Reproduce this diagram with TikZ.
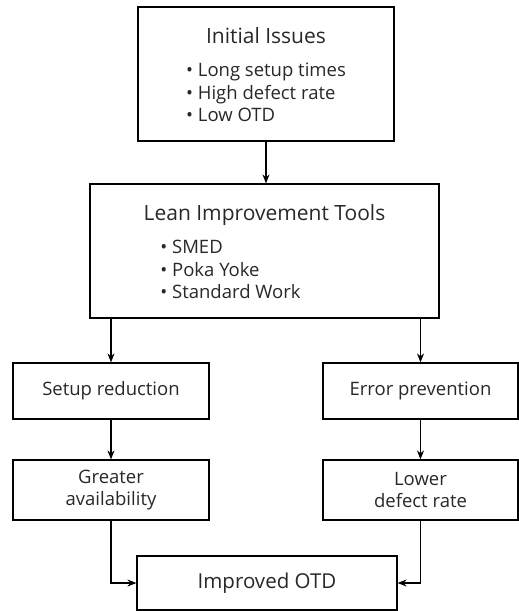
\documentclass[tikz,border=0pt]{standalone}
\usepackage{fontspec}
\setmainfont{Open Sans}
\usepackage{xcolor}
\definecolor{ink}{RGB}{40,40,40}
\usetikzlibrary{arrows.meta,positioning}
\tikzset{
  box/.style={draw=black,line width=1.2pt,fill=white,text=ink,%
    font=\fontsize{18.5}{22.5}\selectfont,inner sep=4pt,align=center},
  big/.style={font=\fontsize{20.5}{25}\selectfont},
  flow/.style={-{Stealth[length=9pt,width=7pt]},line width=1.1pt,draw=black},
}
\newcommand{\itm}{\textbullet\ }
\newcommand{\hd}[1]{{\fontsize{21}{25}\selectfont\rule{0pt}{24pt}#1}}

\begin{document}
\begin{tikzpicture}[x=1pt,y=-1pt]
\useasboundingbox (0,0) rectangle (519,611);
\node[box,minimum width=256pt,minimum height=134pt] (issues) at (266,74)
  {\hd{Initial Issues}\\[11pt]\begin{tabular}[t]{@{}l@{}}\itm Long setup times\\\itm High defect rate\\\itm Low OTD\end{tabular}};
\node[box,minimum width=349pt,minimum height=134pt] (tools) at (264.5,251)
  {\hd{Lean Improvement Tools}\\[11pt]\hspace*{-68pt}\begin{tabular}[t]{@{}l@{}}\itm SMED\\\itm Poka Yoke\\\itm Standard Work\end{tabular}};
\node[box,minimum width=196pt,minimum height=56pt] (setup) at (111,391) {Setup reduction};
\node[box,minimum width=195pt,minimum height=56pt] (error) at (420.5,391) {Error prevention};
\node[box,minimum width=196pt,minimum height=60pt] (avail) at (111,490) {Greater\\availability};
\node[box,minimum width=195pt,minimum height=60pt] (defect) at (420.5,490) {Lower\\defect rate};
\node[box,big,minimum width=260pt,minimum height=54pt] (otd) at (267,583) {Improved OTD};
\draw[flow] (issues.south) -- (issues.south |- tools.north);
\draw[flow] (tools.south -| setup.north) -- (setup.north);
\draw[flow] (tools.south -| error.north) -- (error.north);
\draw[flow] (setup) -- (avail);
\draw[flow] (error) -- (defect);
\draw[flow] (avail) |- (otd);
\draw[flow] (defect) |- (otd);
\end{tikzpicture}
\end{document}
